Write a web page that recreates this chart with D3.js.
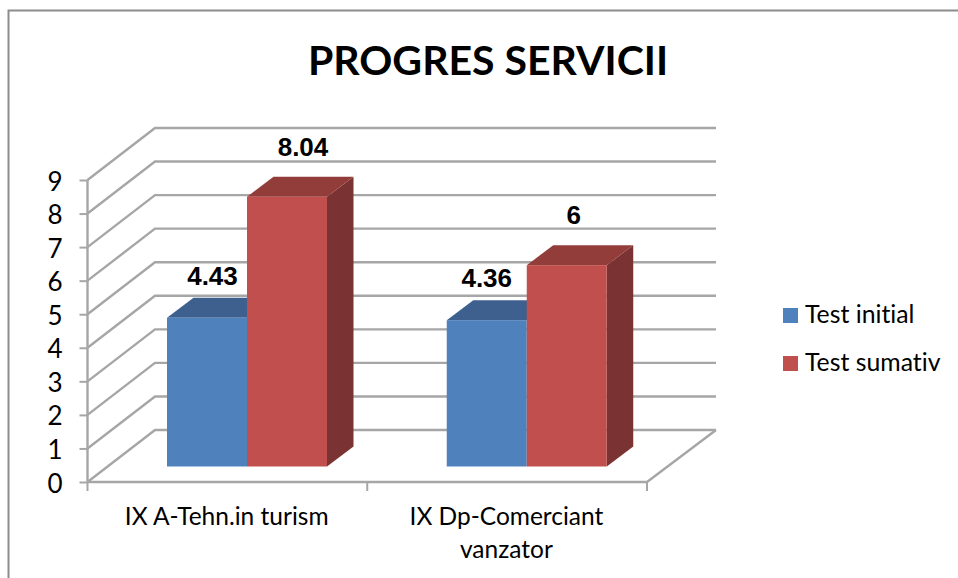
<!DOCTYPE html>
<html><head><meta charset="utf-8">
<script src="https://cdn.jsdelivr.net/npm/d3@7"></script>
<style>html,body{margin:0;padding:0;background:#fff}svg{display:block}text{font-variant-ligatures:none}</style>
</head><body><div id="c"></div>
<script>
const title = "PROGRES SERVICII";
const categories = [["IX A-Tehn.in turism"], ["IX Dp-Comerciant", "vanzator"]];
const seriesNames = ["Test initial", "Test sumativ"];
const testInitial = [4.43, 4.36];
const testSumativ = [8.04, 6];
const labelsInitial = ["4.43", "4.36"];
const labelsSumativ = ["8.04", "6"];
const yTicks = [0,1,2,3,4,5,6,7,8,9];
const colors = {front:["#4f81bd","#c0504d"], top:["#3c618f","#933d3b"], side:["#2f4d72","#7a3230"]};

const W=958,H=578, sans="Lato, 'Open Sans', sans-serif";
const svg=d3.select("#c").append("svg").attr("width",W).attr("height",H);
const defs=svg.append("defs");
defs.append("filter").attr("id","soft").attr("x","-5%").attr("y","-5%").attr("width","110%").attr("height","110%")
  .append("feGaussianBlur").attr("stdDeviation",0.6);

// frame
svg.append("path").attr("d",`M8.5,${H}V10.5H${W}`).attr("fill","none").attr("stroke","#8c8c8c").attr("stroke-width",2);

svg.append("text").attr("x",488).attr("y",75).attr("text-anchor","middle")
  .attr("font-family",sans).attr("font-weight",700).attr("font-size",41).attr("fill","#000").text(title);

const y=d3.scaleLinear().domain([0,9]).range([482,180]);
const x=d3.scaleBand().domain(d3.range(categories.length)).range([87.5,647]);
const wallDx=67.5, wallDy=-52, wallRight=716;
const grid=svg.append("g").attr("filter","url(#soft)");
const gridColor="#a6a6a6";
grid.selectAll("path.g").data(yTicks).join("path").attr("class","g")
  .attr("d",d=>`M${x.range()[0]},${y(d)}L${x.range()[0]+wallDx},${y(d)+wallDy}H${wallRight}`)
  .attr("fill","none").attr("stroke",gridColor).attr("stroke-width",2.4);
// side wall edge, floor front and right edge
grid.append("path").attr("d",`M${x.range()[0]},${y(0)}V${y(9)}`).attr("stroke",gridColor).attr("stroke-width",2.4).attr("fill","none");
grid.append("path").attr("d",`M${x.range()[0]},${y(0)}H${x.range()[1]}L${wallRight},${y(0)+wallDy}`).attr("stroke",gridColor).attr("stroke-width",2.4).attr("fill","none");

// axes
const yAxis=d3.axisLeft(y).tickValues(yTicks).tickSize(8).tickPadding(17).tickFormat(d3.format("d"));
const ya=svg.append("g").attr("transform",`translate(${x.range()[0]},0)`).call(yAxis);
ya.select(".domain").remove();
ya.selectAll("line").attr("stroke",gridColor).attr("stroke-width",2);
ya.selectAll("text").attr("font-family",sans).attr("font-size",26).attr("dy",10).attr("fill","#000");
const edges=[...x.domain().map(i=>x(i)),x.range()[1]];
svg.selectAll("line.xt").data(edges).join("line").attr("class","xt")
  .attr("x1",d=>d).attr("x2",d=>d).attr("y1",y(0)).attr("y2",y(0)+9).attr("stroke",gridColor).attr("stroke-width",2);
const cat=svg.selectAll("text.cat").data(categories).join("text").attr("class","cat")
  .attr("text-anchor","middle").attr("font-family",sans).attr("font-size",24.5).attr("fill","#000");
cat.selectAll("tspan").data((d,i)=>d.map(t=>({t,i}))).join("tspan")
  .attr("x",d=>x(d.i)+x.bandwidth()/2-0.7).attr("y",(d,j)=>525+j*33).text(d=>d.t);

// bars
const bars=[];
categories.forEach((c,i)=>{[testInitial[i],testSumativ[i]].forEach((v,s)=>bars.push({i,s,v,label:(s?labelsSumativ:labelsInitial)[i]}));});
const floorY=-15.5, inset=79.5, barW=80, dDx=26.5, dDy=-20;
const bx=d=>x(d.i)+inset+d.s*barW, by=d=>y(d.v)+floorY, by0=y(0)+floorY;
const gb=svg.append("g").attr("filter","url(#soft)");
gb.selectAll("path.side").data(bars.filter(d=>d.s===1)).join("path").attr("class","side")
  .attr("d",d=>`M${bx(d)+barW},${by(d)}l${dDx},${dDy}V${by0+dDy}L${bx(d)+barW},${by0}Z`).attr("fill",d=>colors.side[d.s]);
gb.selectAll("path.top").data(bars).join("path").attr("class","top")
  .attr("d",d=>`M${bx(d)},${by(d)}l${dDx},${dDy}h${barW}l${-dDx},${-dDy}Z`).attr("fill",d=>colors.top[d.s]);
gb.selectAll("rect.front").data(bars).join("rect").attr("class","front")
  .attr("x",bx).attr("y",by).attr("width",barW).attr("height",d=>by0-by(d)).attr("fill",d=>colors.front[d.s]);

// value labels
const labelShift=[[5.5,-33],[16,-41],[0,-33],[7,-41]];
svg.selectAll("text.val").data(bars).join("text").attr("class","val")
  .attr("x",(d,k)=>bx(d)+barW/2+labelShift[k][0]).attr("y",(d,k)=>by(d)+labelShift[k][1])
  .attr("text-anchor","middle").attr("font-family","'Liberation Sans',Arial,sans-serif")
  .attr("font-weight",700).attr("font-size",26).attr("fill","#000").text(d=>d.label);

// legend
const lg=svg.selectAll("g.lg").data(seriesNames).join("g").attr("class","lg")
  .attr("transform",(d,i)=>`translate(783,${308+i*48})`);
lg.append("rect").attr("width",15).attr("height",15).attr("fill",(d,i)=>colors.front[i]);
lg.append("text").attr("x",22).attr("y",15).attr("font-family",sans).attr("font-size",24.8).attr("fill","#000").text(d=>d);
</script></body></html>
